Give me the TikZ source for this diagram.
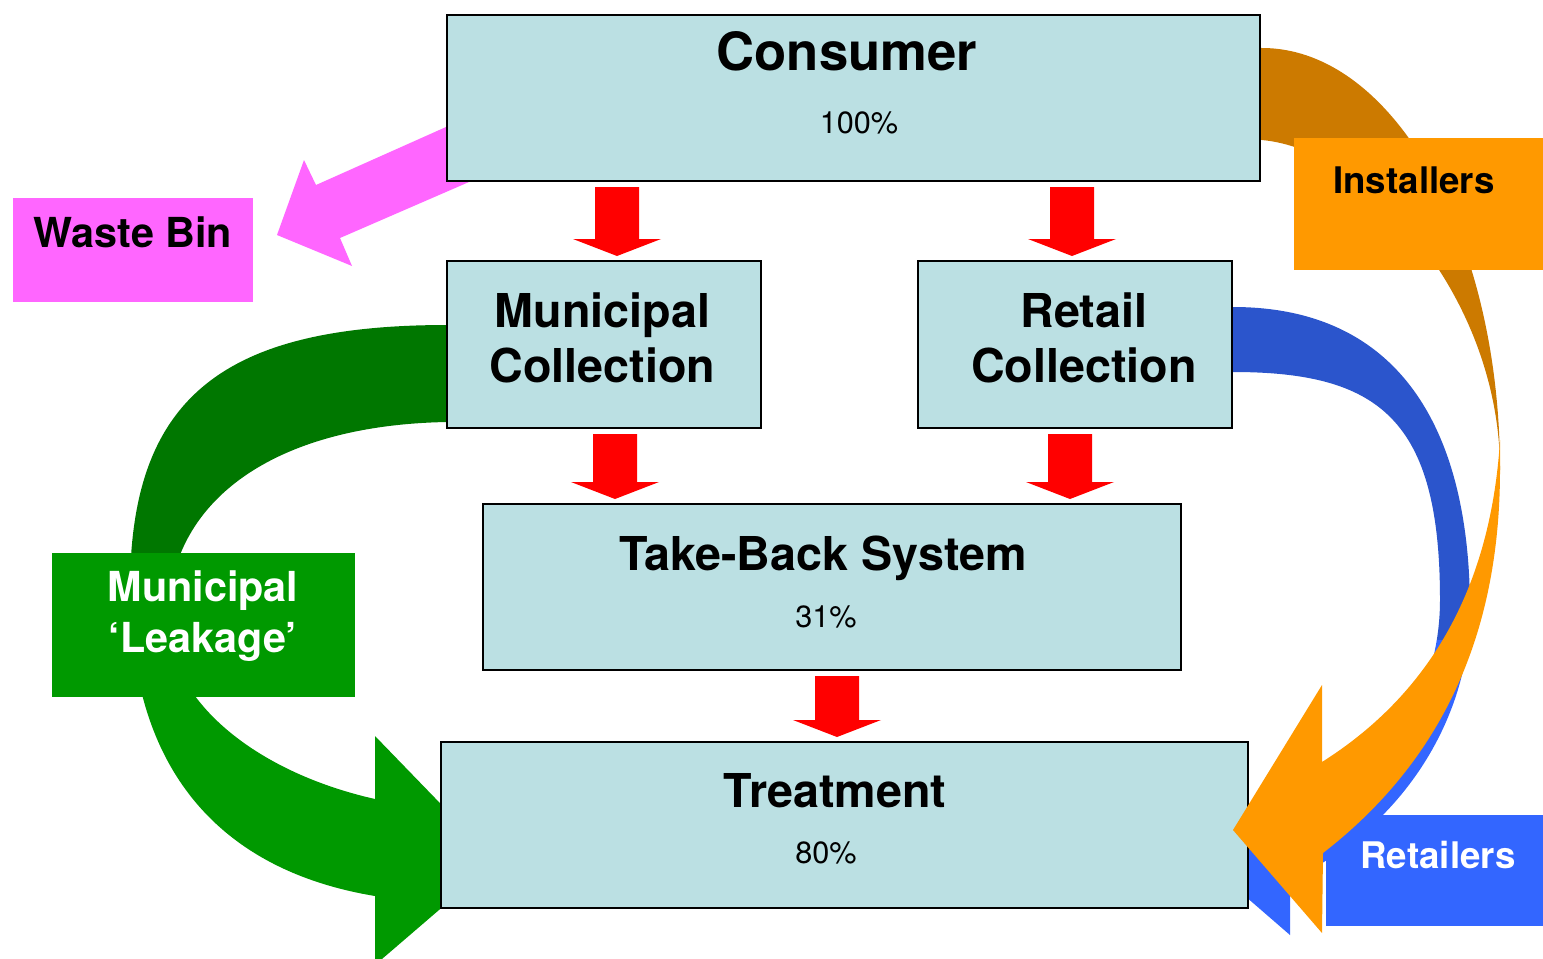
\documentclass[tikz,border=0pt]{standalone}
\usepackage{fontspec}
\setmainfont{TeX Gyre Heros}
\usetikzlibrary{calc}

\definecolor{boxfill}{RGB}{187,224,227}
\definecolor{flowred}{RGB}{255,0,0}
\definecolor{binpink}{RGB}{255,102,255}
\definecolor{instlight}{RGB}{255,153,0}
\definecolor{instdark}{RGB}{204,122,0}
\definecolor{leaklight}{RGB}{0,153,0}
\definecolor{leakdark}{RGB}{0,119,0}
\definecolor{retllight}{RGB}{51,102,255}
\definecolor{retldark}{RGB}{43,85,204}

\pgfdeclarelayer{back}
\pgfdeclarelayer{front}
\pgfsetlayers{back,main,front}

\tikzset{every picture/.style={line width=0.75pt}}
\tikzset{
  boxsize/.style 2 args={minimum width=#1*0.75pt, minimum height=#2*0.75pt},
  stagebox/.style={draw=black, line width=1.5pt, fill=boxfill, inner sep=0pt},
  tagbox/.style={inner sep=0pt},
  titletext/.style={inner sep=0pt, anchor=base, font=\bfseries\fontsize{35}{41.25}\selectfont},
  pcttext/.style={inner sep=0pt, anchor=base, font=\fontsize{23}{27}\selectfont},
  tagtext/.style={inner sep=0pt, anchor=base, font=\bfseries\fontsize{31}{38.25}\selectfont},
}

% red block arrow: #1 x coordinate, #2 from node, #3 to node
\newcommand{\flowdown}[3]{%
  \fill[flowred] ($(#2.south -| #1)+(-22,5)$) -- ($(#3.north -| #1)+(-22,-21)$)
    -- ($(#3.north -| #1)+(-44,-21)$) -- ($(#3.north -| #1)+(0,-4)$)
    -- ($(#3.north -| #1)+(44,-21)$) -- ($(#3.north -| #1)+(22,-21)$)
    -- ($(#2.south -| #1)+(22,5)$) -- cycle;}

\begin{document}
\begin{tikzpicture}[x=0.75pt,y=0.75pt,yscale=-1,xscale=1]
\useasboundingbox (0,0) rectangle (1543,958);

% Stage boxes
\node[stagebox, boxsize={813}{166}] (cons) at (853.5,98) {};
\node[stagebox, boxsize={314}{167}] (mun) at (604,344.5) {};
\node[stagebox, boxsize={314}{167}] (ret) at (1075,344.5) {};
\node[stagebox, boxsize={698}{166}] (tbs) at (832,587) {};
\node[stagebox, boxsize={807}{166}] (treat) at (844.5,825) {};

% Text Node
\node[titletext, font=\bfseries\fontsize{39.5}{47}\selectfont] (constitle) at (847,70) {Consumer};
\node[pcttext] (conspct) at (859,133) {100\%};
\node[titletext, align=center] (muntitle) at (602.5,382) {Municipal\\Collection};
\node[titletext, align=center] (rettitle) at (1084,382) {Retail\\Collection};
\node[titletext] (tbstitle) at (823,570) {Take-Back System};
\node[pcttext] (tbspct) at (826,627) {31\%};
\node[titletext] (treattitle) at (835,807) {Treatment};
\node[pcttext] (treatpct) at (826,863) {80\%};

% Flow labels
\node[tagbox, fill=binpink, boxsize={240}{104}] (bin) at (133,250) {};
\node[tagtext] (bintxt) at (133,247) {Waste Bin};
\node[tagbox, fill=instlight, boxsize={249}{132}] (inst) at (1418.5,204) {};
\node[tagtext, font=\bfseries\fontsize{27.5}{33}\selectfont] (insttxt) at (1414,193) {Installers};
\node[tagbox, fill=leaklight, boxsize={303}{144}] (leak) at (203.5,625) {};
\node[tagtext, text=white, align=center] (leaktxt) at (203,652) {Municipal\\‘Leakage’};
\node[tagbox, fill=retllight, boxsize={217}{111}] (retl) at (1434.5,870.5) {};
\node[tagtext, text=white, font=\bfseries\fontsize{27.5}{33}\selectfont] (retltxt) at (1438,868) {Retailers};

% Straight flows
\coordinate (fa) at (617,0);
\coordinate (fb) at (1072,0);
\coordinate (fc) at (615,0);
\coordinate (fd) at (1070,0);
\coordinate (fe) at (837,0);
\flowdown{fa}{cons}{mun}
\flowdown{fb}{cons}{ret}
\flowdown{fc}{mun}{tbs}
\flowdown{fd}{ret}{tbs}
\flowdown{fe}{tbs}{treat}

\begin{pgfonlayer}{back}
\fill[white] (0,0) rectangle (1543,958);
%Curved arrow: municipal leakage
\begin{scope}
\clip ($(mun.north west)+(5,64)$) -- (447,325) .. controls (220,325) and (130,400) .. (130,590)
  .. controls (130,780) and (230,872) .. (375,896) -- (375,965) -- (496,861) -- (375,736)
  -- (375,799) .. controls (255,772) and (168,700) .. (168,620)
  .. controls (168,500) and (275,425) .. (447,422) -- ($(mun.north west)+(5,161)$) -- cycle;
\fill[leakdark] (0,250) rectangle (470,600);
\fill[leaklight] (0,600) rectangle (520,970);
\end{scope}
%Block arrow: waste bin
\fill[binpink] ($(cons.north west)+(0,113)$) -- (316,185) -- (304,160) -- (277,235)
  -- (352,266) -- (340,238) -- (469,182) -- cycle;
%Curved arrow: retailers
\begin{scope}
\clip ($(ret.north east)+(-5,46)$) -- (1233,307) .. controls (1400,307) and (1470,430) .. (1470,610)
  .. controls (1470,720) and (1400,830) .. (1290,880) -- (1290,935) -- (1215,870) -- (1290,800)
  -- (1290,830) .. controls (1380,790) and (1440,700) .. (1440,600)
  .. controls (1440,420) and (1380,372) .. (1233,372) -- ($(ret.north east)+(-5,111)$) -- cycle;
\fill[retldark] (1200,280) rectangle (1500,640);
\fill[retllight] (1180,640) rectangle (1500,960);
\end{scope}
%Curved arrow: installers, back part
\fill[instdark] ($(cons.north east)+(-5,33)$) -- (1262,48) .. controls (1393,48) and (1500,237) .. (1500,470)
  .. controls (1500,300) and (1370,150) .. (1262,140) -- ($(cons.north east)+(-5,125)$) -- cycle;
\end{pgfonlayer}

\begin{pgfonlayer}{front}
%Curved arrow: installers, front part
\fill[instlight] (1500,440) -- (1500,470) .. controls (1500,650) and (1430,770) .. (1323,853)
  -- (1322,933) -- ($(treat.east)+(-16,5)$) -- (1322,685) -- (1322,762)
  .. controls (1420,700) and (1490,600) .. (1500,440) -- cycle;
\end{pgfonlayer}

\end{tikzpicture}
\end{document}
